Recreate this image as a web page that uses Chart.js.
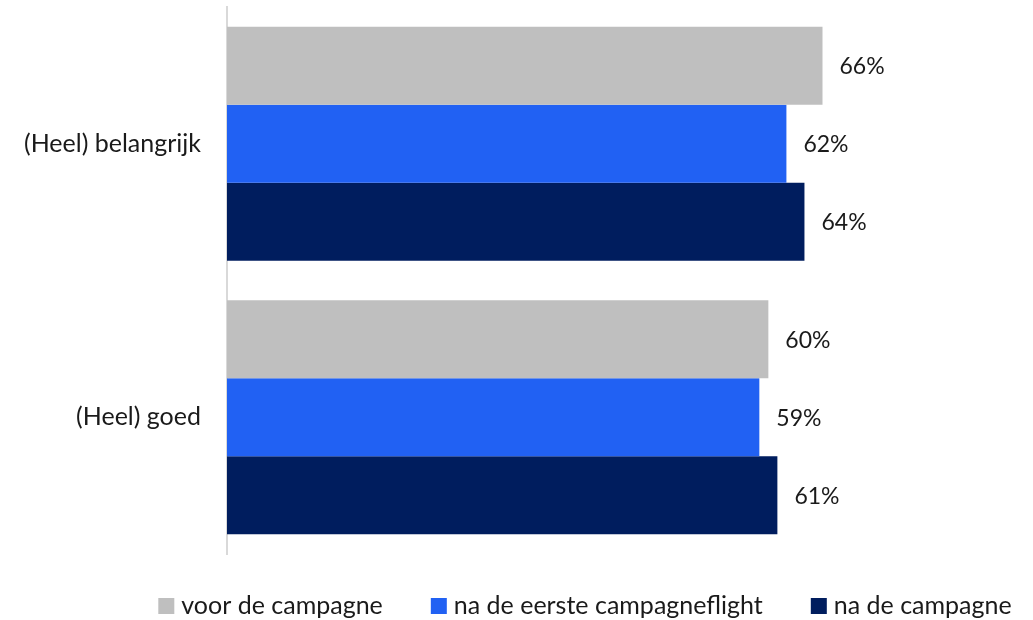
<!DOCTYPE html>
<html>
<head>
<meta charset="utf-8">
<script src="https://cdn.jsdelivr.net/npm/chart.js@4"></script>
<style>
  html, body { margin: 0; padding: 0; background: #fff; }
  #wrap { width: 1033px; height: 620px; }
</style>
</head>
<body>
<div id="wrap"><canvas id="chart" width="1033" height="620"></canvas></div>
<script>
const categories = ["(Heel) belangrijk", "(Heel) goed"];
const seriesNames = ["voor de campagne", "na de eerste campagneflight", "na de campagne"];
const voorCampagne = [66, 60];
const naEersteFlight = [62, 59];
const naCampagne = [64, 61];
const colors = ["#bfbfbf", "#2161f3", "#001d5e"];

const FONT = "Lato, 'Open Sans', sans-serif";

// value labels just right of each bar end
const valueLabels = {
  id: "valueLabels",
  afterDatasetsDraw(chart) {
    const ctx = chart.ctx;
    ctx.save();
    ctx.font = "23px " + FONT;
    ctx.fillStyle = "#1a1a1a";
    ctx.textAlign = "left";
    ctx.textBaseline = "middle";
    chart.data.datasets.forEach((ds, i) => {
      chart.getDatasetMeta(i).data.forEach((bar, j) => {
        ctx.fillText(ds.data[j] + "%", bar.x + 17, bar.y + 1);
      });
    });
    ctx.restore();
  }
};

// legend row under the plot: small square + series name, wide gaps
const bottomLegend = {
  id: "bottomLegend",
  afterDraw(chart) {
    const ctx = chart.ctx;
    const box = 16, gap = 7, spacing = 48, midY = 606, centerX = 585;
    ctx.save();
    ctx.font = "25px " + FONT;
    ctx.textBaseline = "middle";
    ctx.textAlign = "left";
    const items = chart.data.datasets.map(ds => ({
      text: ds.label,
      color: ds.backgroundColor,
      w: box + gap + ctx.measureText(ds.label).width
    }));
    const total = items.reduce((s, it) => s + it.w, 0) + spacing * (items.length - 1);
    let x = centerX - total / 2;
    items.forEach(it => {
      ctx.fillStyle = it.color;
      ctx.fillRect(x, midY - box / 2, box, box);
      ctx.fillStyle = "#1a1a1a";
      ctx.fillText(it.text, x + box + gap, midY);
      x += it.w + spacing;
    });
    ctx.restore();
  }
};

new Chart(document.getElementById("chart"), {
  type: "bar",
  data: {
    labels: categories,
    datasets: [
      { label: seriesNames[0], data: voorCampagne, backgroundColor: colors[0] },
      { label: seriesNames[1], data: naEersteFlight, backgroundColor: colors[1] },
      { label: seriesNames[2], data: naCampagne, backgroundColor: colors[2] }
    ]
  },
  options: {
    indexAxis: "y",
    responsive: false,
    animation: false,
    layout: { autoPadding: false, padding: { top: 7, right: 12, bottom: 66, left: 0 } },
    datasets: {
      bar: { categoryPercentage: 0.856, barPercentage: 1.0 }
    },
    scales: {
      x: {
        display: false,
        min: 0,
        max: 88
      },
      y: {
        grid: { display: false, drawTicks: false },
        border: { display: true, color: "#d9d9d9", width: 2 },
        ticks: {
          padding: 26,
          color: "#1a1a1a",
          font: { family: FONT, size: 25 }
        },
        afterFit(scale) {
          scale.width = 227;
          scale.paddingTop = 0;
          scale.paddingBottom = 0;
        }
      }
    },
    plugins: {
      legend: { display: false },
      tooltip: { enabled: false }
    }
  },
  plugins: [valueLabels, bottomLegend]
});
</script>
</body>
</html>
